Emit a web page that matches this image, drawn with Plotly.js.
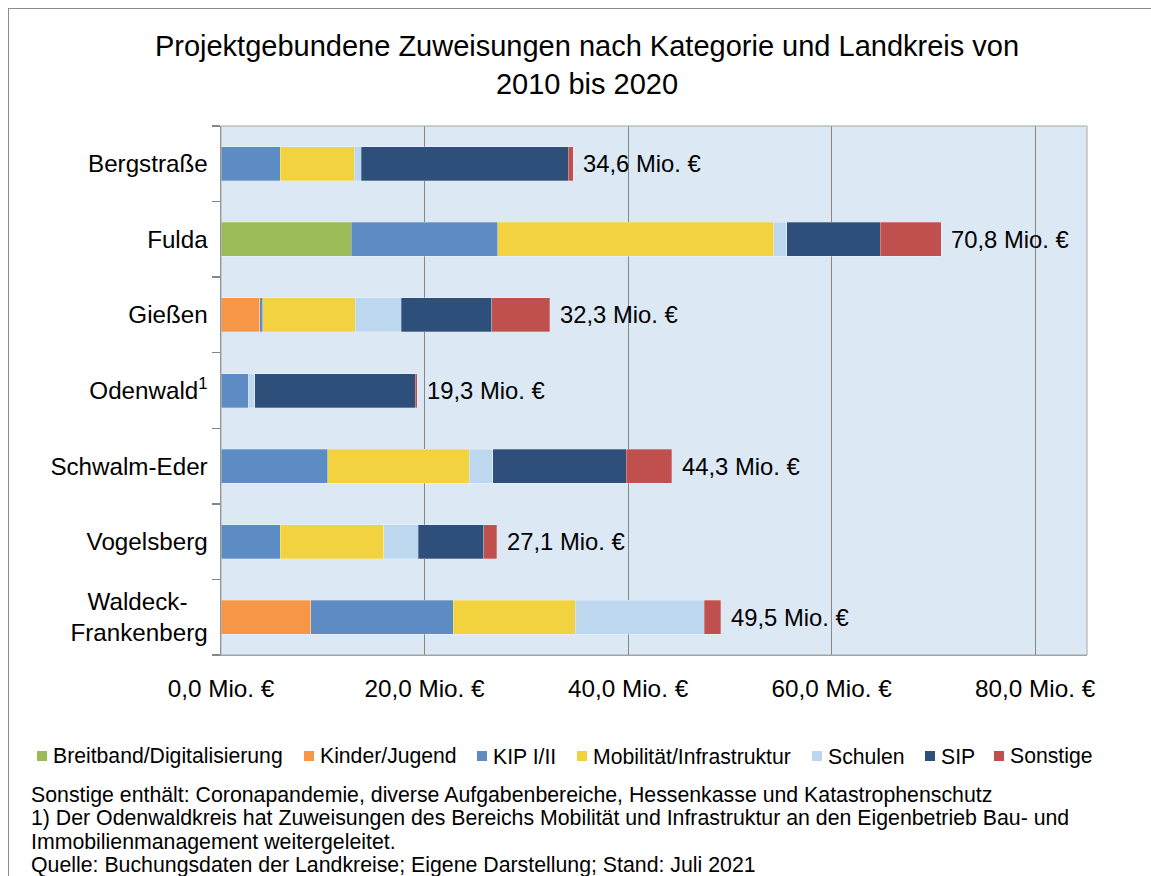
<!DOCTYPE html>
<html>
<head>
<meta charset="utf-8">
<script src="https://cdn.plot.ly/plotly-3.0.1.min.js"></script>
<style>
  html, body { margin: 0; padding: 0; background: #ffffff; }
  #chart { width: 1151px; height: 876px; }
  #frame { position: absolute; left: 8px; top: 8px; width: 1200px; height: 900px;
           border: 1.5px solid #8c8c8c; pointer-events: none; box-sizing: border-box; }
</style>
</head>
<body>
<div id="chart"></div>
<div id="frame"></div>
<script>
// ---- data (Mio. €) ----
const categories = ['Bergstraße', 'Fulda', 'Gießen', 'Odenwald', 'Schwalm-Eder', 'Vogelsberg', 'Waldeck-Frankenberg'];
const categoryLabels = ['Bergstraße', 'Fulda', 'Gießen', 'Odenwald<sup>1</sup>', 'Schwalm-Eder', 'Vogelsberg', 'Waldeck-\u00a0\u00a0\u00a0<br>Frankenberg'];
const seriesNames = ['Breitband/Digitalisierung', 'Kinder/Jugend', 'KIP I/II', 'Mobilität/Infrastruktur', 'Schulen', 'SIP', 'Sonstige'];
const breitband = [0, 12.8, 0, 0, 0, 0, 0];
const kinder    = [0, 0, 3.8, 0, 0, 0, 8.8];
const kip       = [5.8, 14.4, 0.3, 2.7, 10.5, 5.8, 14.0];
const mobil     = [7.3, 27.1, 9.1, 0, 13.9, 10.2, 12.0];
const schulen   = [0.7, 1.3, 4.5, 0.6, 2.3, 3.4, 12.7];
const sip       = [20.3, 9.2, 8.9, 15.8, 13.1, 6.4, 0];
const sonstige  = [0.5, 6.0, 5.7, 0.2, 4.5, 1.3, 1.6];
const totalLabels = ['34,6 Mio. €', '70,8 Mio. €', '32,3 Mio. €', '19,3 Mio. €', '44,3 Mio. €', '27,1 Mio. €', '49,5 Mio. €'];
const xTickVals = [0, 20, 40, 60, 80];
const xTickText = ['0,0 Mio. €', '20,0 Mio. €', '40,0 Mio. €', '60,0 Mio. €', '80,0 Mio. €'];
const footnotes = [
  'Sonstige enthält: Coronapandemie, diverse Aufgabenbereiche, Hessenkasse und Katastrophenschutz',
  '1) Der Odenwaldkreis hat Zuweisungen des Bereichs Mobilität und Infrastruktur an den Eigenbetrieb Bau- und',
  'Immobilienmanagement weitergeleitet.',
  'Quelle: Buchungsdaten der Landkreise; Eigene Darstellung; Stand: Juli 2021'
];

const seriesValues = [breitband, kinder, kip, mobil, schulen, sip, sonstige];
const colors = ['#9bbb59', '#f79646', '#5d8bc3', '#f2d23e', '#bdd7ee', '#2d4f79', '#c0504d'];

const FONT = 'Liberation Sans, Arial, sans-serif';

// plot area in pixels
const L = 221, R = 1087, T = 126, B = 655;
const W = 1151, H = 876;
const py = p => (B - p) / (B - T);
const px = p => (p - L) / (R - L);

const traces = seriesValues.map((vals, i) => ({
  type: 'bar',
  orientation: 'h',
  name: seriesNames[i],
  x: vals,
  y: categories,
  width: 0.45,
  marker: { color: colors[i], line: { width: 0.6, color: 'rgba(255,255,255,0.45)' } },
  hoverinfo: 'x+name'
}));

const totals = categories.map((c, k) => seriesValues.reduce((s, arr) => s + arr[k], 0));

const annotations = categories.map((c, k) => ({
  x: totals[k], y: c, xref: 'x', yref: 'y',
  text: totalLabels[k], showarrow: false,
  xanchor: 'left', yanchor: 'middle', xshift: 8,
  font: { family: FONT, size: 23.8, color: '#000000' }
}));

const footY = [795, 818, 842, 865];
footnotes.forEach((t, i) => {
  annotations.push({
    x: px(29), y: py(footY[i]), xref: 'paper', yref: 'paper',
    text: t, showarrow: false, xanchor: 'left', yanchor: 'middle',
    font: { family: FONT, size: 21.3, color: '#000000' }
  });
});

// custom compact legend (squares + labels), left pixel of each square
const legendSquareLeft = [37, 304, 477, 577, 812, 925, 994];
const legendCenterY = 756;
const shapes = [
  { type: 'rect', xref: 'paper', yref: 'paper', x0: 0, x1: 1, y0: 0, y1: 1,
    line: { color: '#a6a6a6', width: 1 }, fillcolor: 'rgba(0,0,0,0)', layer: 'above' }
];
seriesNames.forEach((n, i) => {
  const x0 = legendSquareLeft[i];
  shapes.push({
    type: 'rect', xref: 'paper', yref: 'paper',
    x0: px(x0), x1: px(x0 + 10), y0: py(legendCenterY + 5), y1: py(legendCenterY - 5),
    line: { width: 0 }, fillcolor: colors[i]
  });
  annotations.push({
    x: px(x0 + 14), y: py(legendCenterY), xref: 'paper', yref: 'paper',
    text: n, showarrow: false, xanchor: 'left', yanchor: 'middle',
    font: { family: FONT, size: 21.2, color: '#000000' }
  });
});

const layout = {
  width: W, height: H,
  margin: { l: L, r: W - R, t: T, b: H - B, pad: 0 },
  paper_bgcolor: '#ffffff',
  plot_bgcolor: '#dce9f5',
  barmode: 'stack',
  font: { family: FONT, size: 20, color: '#000000' },
  title: {
    text: 'Projektgebundene Zuweisungen nach Kategorie und Landkreis von<br>2010 bis 2020',
    font: { family: FONT, size: 29, color: '#000000' },
    x: 587 / W, xref: 'container', xanchor: 'center',
    y: 1 - 56 / H, yref: 'container', yanchor: 'top'
  },
  xaxis: {
    range: [0, 85.1],
    tickvals: xTickVals, ticktext: xTickText,
    showgrid: true, gridcolor: '#878787', gridwidth: 1,
    zeroline: false,
    showline: true, linecolor: '#a0a0a0', linewidth: 1,
    ticks: '', ticklabelstandoff: 12,
    tickfont: { family: FONT, size: 24.3, color: '#000000' },
    fixedrange: true
  },
  yaxis: {
    type: 'category',
    autorange: 'reversed',
    tickvals: categories, ticktext: categoryLabels,
    tickson: 'boundaries',
    ticks: 'outside', ticklen: 8, tickcolor: '#868686', tickwidth: 1.5,
    showline: true, linecolor: '#868686', linewidth: 1.5,
    showgrid: false, zeroline: false,
    ticklabelstandoff: 7,
    tickfont: { family: FONT, size: 24.2, color: '#000000' },
    fixedrange: true
  },
  shapes: shapes,
  annotations: annotations,
  showlegend: false
};

Plotly.newPlot('chart', traces, layout, { displayModeBar: false, staticPlot: true });
</script>
</body>
</html>
